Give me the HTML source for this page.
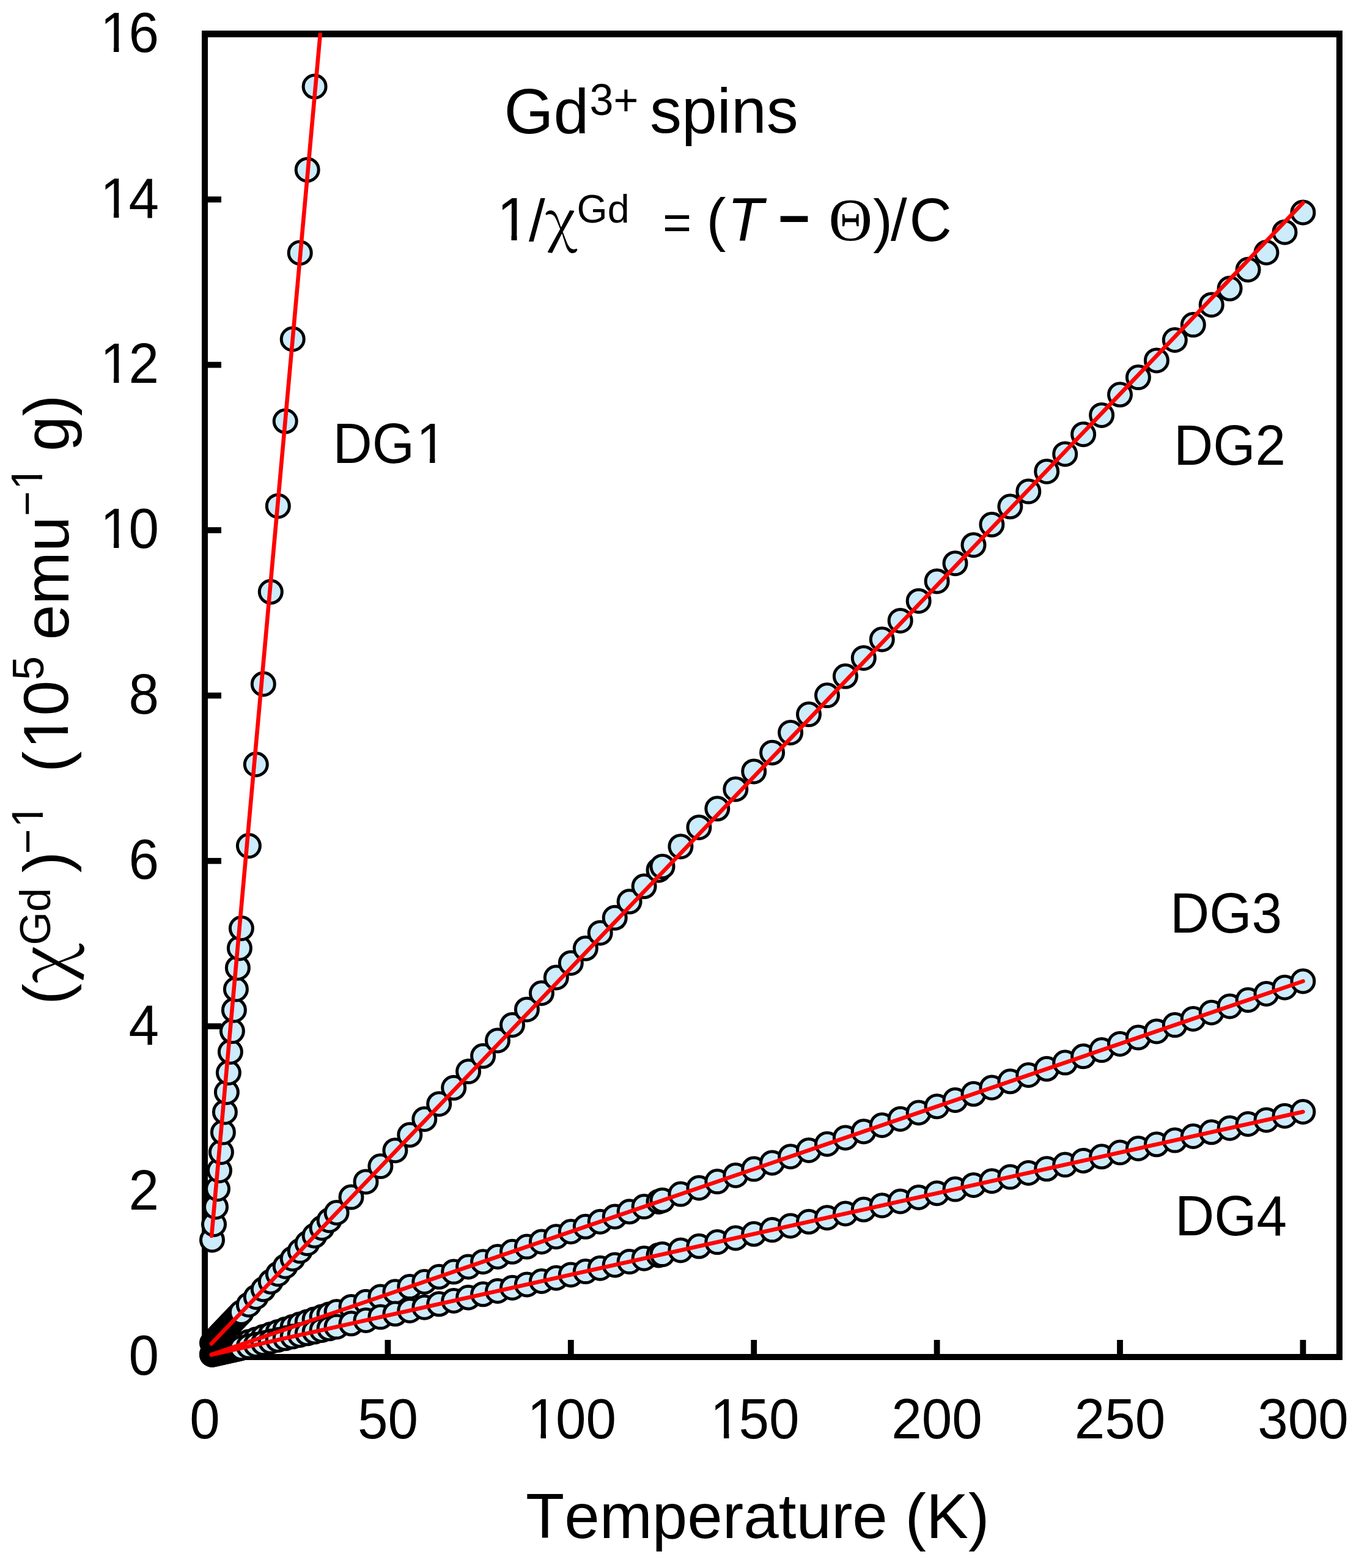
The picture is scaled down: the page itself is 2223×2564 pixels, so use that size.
<!DOCTYPE html>
<html><head><meta charset="utf-8"><title>Gd spins plot</title>
<style>html,body{margin:0;padding:0;background:#fff;}svg{display:block;font-kerning:none;font-feature-settings:'kern' 0;}</style>
</head><body>
<svg xmlns="http://www.w3.org/2000/svg" width="2223" height="2564" viewBox="0 0 2223 2564">
<rect x="0" y="0" width="2223" height="2564" fill="#fff"/>
<g fill="#000">
<rect x="330" y="50" width="10" height="2174"/>
<rect x="2186" y="50" width="10" height="2174"/>
<rect x="330" y="50" width="1866" height="11"/>
<rect x="330" y="2214" width="1866" height="10"/>
<rect x="340" y="1943.7" width="22" height="9.8"/>
<rect x="340" y="1673.3" width="22" height="9.8"/>
<rect x="340" y="1402.9" width="22" height="9.8"/>
<rect x="340" y="1132.5" width="22" height="9.8"/>
<rect x="340" y="862.1" width="22" height="9.8"/>
<rect x="340" y="591.7" width="22" height="9.8"/>
<rect x="340" y="321.3" width="22" height="9.8"/>
<rect x="629.5" y="2191" width="9.8" height="23"/>
<rect x="928.9" y="2191" width="9.8" height="23"/>
<rect x="1228.3" y="2191" width="9.8" height="23"/>
<rect x="1527.7" y="2191" width="9.8" height="23"/>
<rect x="1827.1" y="2191" width="9.8" height="23"/>
<rect x="2126.5" y="2191" width="9.8" height="23"/>
</g>
<g fill="#CCEBFB" stroke="#000" stroke-width="5">
<circle cx="347.0" cy="2027.5" r="18.5"/>
<circle cx="350.0" cy="2002.0" r="18.5"/>
<circle cx="353.0" cy="1973.5" r="18.5"/>
<circle cx="356.0" cy="1944.0" r="18.5"/>
<circle cx="359.0" cy="1914.0" r="18.5"/>
<circle cx="361.9" cy="1884.0" r="18.5"/>
<circle cx="364.9" cy="1851.6" r="18.5"/>
<circle cx="367.9" cy="1818.5" r="18.5"/>
<circle cx="370.9" cy="1786.0" r="18.5"/>
<circle cx="373.9" cy="1754.0" r="18.5"/>
<circle cx="376.9" cy="1720.0" r="18.5"/>
<circle cx="379.9" cy="1686.1" r="18.5"/>
<circle cx="382.9" cy="1651.7" r="18.5"/>
<circle cx="385.9" cy="1617.6" r="18.5"/>
<circle cx="388.9" cy="1582.7" r="18.5"/>
<circle cx="391.9" cy="1550.4" r="18.5"/>
<circle cx="394.9" cy="1518.0" r="18.5"/>
<circle cx="406.9" cy="1383.1" r="18.5"/>
<circle cx="418.8" cy="1250.0" r="18.5"/>
<circle cx="430.8" cy="1118.5" r="18.5"/>
<circle cx="442.8" cy="967.8" r="18.5"/>
<circle cx="454.8" cy="827.4" r="18.5"/>
<circle cx="466.7" cy="688.8" r="18.5"/>
<circle cx="478.7" cy="554.5" r="18.5"/>
<circle cx="490.7" cy="413.4" r="18.5"/>
<circle cx="502.7" cy="277.7" r="18.5"/>
<circle cx="514.6" cy="141.6" r="18.5"/>
<circle cx="347.0" cy="2196.1" r="18.5"/>
<circle cx="350.0" cy="2192.9" r="18.5"/>
<circle cx="353.0" cy="2189.8" r="18.5"/>
<circle cx="356.0" cy="2186.7" r="18.5"/>
<circle cx="359.0" cy="2183.5" r="18.5"/>
<circle cx="361.9" cy="2180.4" r="18.5"/>
<circle cx="364.9" cy="2177.3" r="18.5"/>
<circle cx="367.9" cy="2174.1" r="18.5"/>
<circle cx="370.9" cy="2171.0" r="18.5"/>
<circle cx="373.9" cy="2167.9" r="18.5"/>
<circle cx="376.9" cy="2164.7" r="18.5"/>
<circle cx="379.9" cy="2161.6" r="18.5"/>
<circle cx="382.9" cy="2158.5" r="18.5"/>
<circle cx="385.9" cy="2155.3" r="18.5"/>
<circle cx="388.9" cy="2152.2" r="18.5"/>
<circle cx="391.9" cy="2149.1" r="18.5"/>
<circle cx="394.9" cy="2145.9" r="18.5"/>
<circle cx="406.9" cy="2133.4" r="18.5"/>
<circle cx="418.8" cy="2120.9" r="18.5"/>
<circle cx="430.8" cy="2108.3" r="18.5"/>
<circle cx="442.8" cy="2095.8" r="18.5"/>
<circle cx="454.8" cy="2083.2" r="18.5"/>
<circle cx="466.7" cy="2070.7" r="18.5"/>
<circle cx="478.7" cy="2058.2" r="18.5"/>
<circle cx="490.7" cy="2045.6" r="18.5"/>
<circle cx="502.7" cy="2033.1" r="18.5"/>
<circle cx="514.6" cy="2020.6" r="18.5"/>
<circle cx="526.6" cy="2008.0" r="18.5"/>
<circle cx="538.6" cy="1995.5" r="18.5"/>
<circle cx="550.6" cy="1983.0" r="18.5"/>
<circle cx="574.5" cy="1957.6" r="18.5"/>
<circle cx="598.5" cy="1932.4" r="18.5"/>
<circle cx="622.4" cy="1907.1" r="18.5"/>
<circle cx="646.4" cy="1881.2" r="18.5"/>
<circle cx="670.3" cy="1855.8" r="18.5"/>
<circle cx="694.3" cy="1830.0" r="18.5"/>
<circle cx="718.2" cy="1805.2" r="18.5"/>
<circle cx="742.2" cy="1778.8" r="18.5"/>
<circle cx="766.1" cy="1752.1" r="18.5"/>
<circle cx="790.1" cy="1726.8" r="18.5"/>
<circle cx="814.0" cy="1701.4" r="18.5"/>
<circle cx="838.0" cy="1676.0" r="18.5"/>
<circle cx="861.9" cy="1650.7" r="18.5"/>
<circle cx="885.9" cy="1624.0" r="18.5"/>
<circle cx="909.8" cy="1598.5" r="18.5"/>
<circle cx="933.8" cy="1574.7" r="18.5"/>
<circle cx="957.8" cy="1550.8" r="18.5"/>
<circle cx="981.7" cy="1525.4" r="18.5"/>
<circle cx="1005.7" cy="1500.8" r="18.5"/>
<circle cx="1029.6" cy="1474.3" r="18.5"/>
<circle cx="1053.6" cy="1449.3" r="18.5"/>
<circle cx="1077.5" cy="1422.7" r="18.5"/>
<circle cx="1083.5" cy="1416.9" r="18.5"/>
<circle cx="1113.4" cy="1384.2" r="18.5"/>
<circle cx="1143.4" cy="1352.9" r="18.5"/>
<circle cx="1173.3" cy="1322.3" r="18.5"/>
<circle cx="1203.3" cy="1290.5" r="18.5"/>
<circle cx="1233.2" cy="1261.4" r="18.5"/>
<circle cx="1263.1" cy="1230.7" r="18.5"/>
<circle cx="1293.1" cy="1197.9" r="18.5"/>
<circle cx="1323.0" cy="1168.1" r="18.5"/>
<circle cx="1353.0" cy="1137.1" r="18.5"/>
<circle cx="1382.9" cy="1105.8" r="18.5"/>
<circle cx="1412.8" cy="1075.9" r="18.5"/>
<circle cx="1442.8" cy="1045.5" r="18.5"/>
<circle cx="1472.7" cy="1014.9" r="18.5"/>
<circle cx="1502.7" cy="982.7" r="18.5"/>
<circle cx="1532.6" cy="950.4" r="18.5"/>
<circle cx="1562.5" cy="921.2" r="18.5"/>
<circle cx="1592.5" cy="891.2" r="18.5"/>
<circle cx="1622.4" cy="857.8" r="18.5"/>
<circle cx="1652.4" cy="828.3" r="18.5"/>
<circle cx="1682.3" cy="803.6" r="18.5"/>
<circle cx="1712.2" cy="770.9" r="18.5"/>
<circle cx="1742.2" cy="742.4" r="18.5"/>
<circle cx="1772.1" cy="710.2" r="18.5"/>
<circle cx="1802.1" cy="678.9" r="18.5"/>
<circle cx="1832.0" cy="645.3" r="18.5"/>
<circle cx="1861.9" cy="617.1" r="18.5"/>
<circle cx="1891.9" cy="589.4" r="18.5"/>
<circle cx="1921.8" cy="556.0" r="18.5"/>
<circle cx="1951.8" cy="531.1" r="18.5"/>
<circle cx="1981.7" cy="498.4" r="18.5"/>
<circle cx="2011.6" cy="471.8" r="18.5"/>
<circle cx="2041.6" cy="441.0" r="18.5"/>
<circle cx="2071.5" cy="413.0" r="18.5"/>
<circle cx="2101.5" cy="379.7" r="18.5"/>
<circle cx="2131.4" cy="347.5" r="18.5"/>
<circle cx="347.0" cy="2214.7" r="18.5"/>
<circle cx="350.0" cy="2213.7" r="18.5"/>
<circle cx="353.0" cy="2212.7" r="18.5"/>
<circle cx="356.0" cy="2211.7" r="18.5"/>
<circle cx="359.0" cy="2210.6" r="18.5"/>
<circle cx="361.9" cy="2209.6" r="18.5"/>
<circle cx="364.9" cy="2208.6" r="18.5"/>
<circle cx="367.9" cy="2207.6" r="18.5"/>
<circle cx="370.9" cy="2206.5" r="18.5"/>
<circle cx="373.9" cy="2205.5" r="18.5"/>
<circle cx="376.9" cy="2204.5" r="18.5"/>
<circle cx="379.9" cy="2203.5" r="18.5"/>
<circle cx="382.9" cy="2202.4" r="18.5"/>
<circle cx="385.9" cy="2201.4" r="18.5"/>
<circle cx="388.9" cy="2200.4" r="18.5"/>
<circle cx="391.9" cy="2199.4" r="18.5"/>
<circle cx="394.9" cy="2198.3" r="18.5"/>
<circle cx="406.9" cy="2194.3" r="18.5"/>
<circle cx="418.8" cy="2190.2" r="18.5"/>
<circle cx="430.8" cy="2186.1" r="18.5"/>
<circle cx="442.8" cy="2182.0" r="18.5"/>
<circle cx="454.8" cy="2177.9" r="18.5"/>
<circle cx="466.7" cy="2173.8" r="18.5"/>
<circle cx="478.7" cy="2169.7" r="18.5"/>
<circle cx="490.7" cy="2165.6" r="18.5"/>
<circle cx="502.7" cy="2161.5" r="18.5"/>
<circle cx="514.6" cy="2157.4" r="18.5"/>
<circle cx="526.6" cy="2153.3" r="18.5"/>
<circle cx="538.6" cy="2149.2" r="18.5"/>
<circle cx="550.6" cy="2145.1" r="18.5"/>
<circle cx="574.5" cy="2136.9" r="18.5"/>
<circle cx="598.5" cy="2128.7" r="18.5"/>
<circle cx="622.4" cy="2120.5" r="18.5"/>
<circle cx="646.4" cy="2112.3" r="18.5"/>
<circle cx="670.3" cy="2104.1" r="18.5"/>
<circle cx="694.3" cy="2096.0" r="18.5"/>
<circle cx="718.2" cy="2087.8" r="18.5"/>
<circle cx="742.2" cy="2079.6" r="18.5"/>
<circle cx="766.1" cy="2071.4" r="18.5"/>
<circle cx="790.1" cy="2063.2" r="18.5"/>
<circle cx="814.0" cy="2055.0" r="18.5"/>
<circle cx="838.0" cy="2046.8" r="18.5"/>
<circle cx="861.9" cy="2038.6" r="18.5"/>
<circle cx="885.9" cy="2030.4" r="18.5"/>
<circle cx="909.8" cy="2022.2" r="18.5"/>
<circle cx="933.8" cy="2014.0" r="18.5"/>
<circle cx="957.8" cy="2005.8" r="18.5"/>
<circle cx="981.7" cy="1997.7" r="18.5"/>
<circle cx="1005.7" cy="1989.5" r="18.5"/>
<circle cx="1029.6" cy="1981.3" r="18.5"/>
<circle cx="1053.6" cy="1973.1" r="18.5"/>
<circle cx="1077.5" cy="1964.9" r="18.5"/>
<circle cx="1083.5" cy="1962.8" r="18.5"/>
<circle cx="1113.4" cy="1952.6" r="18.5"/>
<circle cx="1143.4" cy="1942.4" r="18.5"/>
<circle cx="1173.3" cy="1932.1" r="18.5"/>
<circle cx="1203.3" cy="1921.9" r="18.5"/>
<circle cx="1233.2" cy="1911.6" r="18.5"/>
<circle cx="1263.1" cy="1901.4" r="18.5"/>
<circle cx="1293.1" cy="1891.2" r="18.5"/>
<circle cx="1323.0" cy="1880.9" r="18.5"/>
<circle cx="1353.0" cy="1870.7" r="18.5"/>
<circle cx="1382.9" cy="1860.4" r="18.5"/>
<circle cx="1412.8" cy="1850.2" r="18.5"/>
<circle cx="1442.8" cy="1840.0" r="18.5"/>
<circle cx="1472.7" cy="1829.7" r="18.5"/>
<circle cx="1502.7" cy="1819.5" r="18.5"/>
<circle cx="1532.6" cy="1809.2" r="18.5"/>
<circle cx="1562.5" cy="1799.0" r="18.5"/>
<circle cx="1592.5" cy="1788.8" r="18.5"/>
<circle cx="1622.4" cy="1778.5" r="18.5"/>
<circle cx="1652.4" cy="1768.3" r="18.5"/>
<circle cx="1682.3" cy="1758.0" r="18.5"/>
<circle cx="1712.2" cy="1747.8" r="18.5"/>
<circle cx="1742.2" cy="1737.6" r="18.5"/>
<circle cx="1772.1" cy="1727.3" r="18.5"/>
<circle cx="1802.1" cy="1717.1" r="18.5"/>
<circle cx="1832.0" cy="1706.9" r="18.5"/>
<circle cx="1861.9" cy="1696.6" r="18.5"/>
<circle cx="1891.9" cy="1686.4" r="18.5"/>
<circle cx="1921.8" cy="1676.1" r="18.5"/>
<circle cx="1951.8" cy="1665.9" r="18.5"/>
<circle cx="1981.7" cy="1655.7" r="18.5"/>
<circle cx="2011.6" cy="1645.4" r="18.5"/>
<circle cx="2041.6" cy="1635.2" r="18.5"/>
<circle cx="2071.5" cy="1624.9" r="18.5"/>
<circle cx="2101.5" cy="1614.7" r="18.5"/>
<circle cx="2131.4" cy="1604.5" r="18.5"/>
<circle cx="347.0" cy="2214.9" r="18.5"/>
<circle cx="350.0" cy="2214.2" r="18.5"/>
<circle cx="353.0" cy="2213.6" r="18.5"/>
<circle cx="356.0" cy="2212.9" r="18.5"/>
<circle cx="359.0" cy="2212.2" r="18.5"/>
<circle cx="361.9" cy="2211.6" r="18.5"/>
<circle cx="364.9" cy="2210.9" r="18.5"/>
<circle cx="367.9" cy="2210.2" r="18.5"/>
<circle cx="370.9" cy="2209.6" r="18.5"/>
<circle cx="373.9" cy="2208.9" r="18.5"/>
<circle cx="376.9" cy="2208.2" r="18.5"/>
<circle cx="379.9" cy="2207.6" r="18.5"/>
<circle cx="382.9" cy="2206.9" r="18.5"/>
<circle cx="385.9" cy="2206.2" r="18.5"/>
<circle cx="388.9" cy="2205.6" r="18.5"/>
<circle cx="391.9" cy="2204.9" r="18.5"/>
<circle cx="394.9" cy="2204.2" r="18.5"/>
<circle cx="406.9" cy="2201.6" r="18.5"/>
<circle cx="418.8" cy="2198.9" r="18.5"/>
<circle cx="430.8" cy="2196.2" r="18.5"/>
<circle cx="442.8" cy="2193.6" r="18.5"/>
<circle cx="454.8" cy="2190.9" r="18.5"/>
<circle cx="466.7" cy="2188.3" r="18.5"/>
<circle cx="478.7" cy="2185.6" r="18.5"/>
<circle cx="490.7" cy="2182.9" r="18.5"/>
<circle cx="502.7" cy="2180.3" r="18.5"/>
<circle cx="514.6" cy="2177.6" r="18.5"/>
<circle cx="526.6" cy="2174.9" r="18.5"/>
<circle cx="538.6" cy="2172.3" r="18.5"/>
<circle cx="550.6" cy="2169.6" r="18.5"/>
<circle cx="574.5" cy="2164.3" r="18.5"/>
<circle cx="598.5" cy="2159.0" r="18.5"/>
<circle cx="622.4" cy="2153.6" r="18.5"/>
<circle cx="646.4" cy="2148.3" r="18.5"/>
<circle cx="670.3" cy="2143.0" r="18.5"/>
<circle cx="694.3" cy="2137.7" r="18.5"/>
<circle cx="718.2" cy="2132.3" r="18.5"/>
<circle cx="742.2" cy="2127.0" r="18.5"/>
<circle cx="766.1" cy="2121.7" r="18.5"/>
<circle cx="790.1" cy="2116.3" r="18.5"/>
<circle cx="814.0" cy="2111.0" r="18.5"/>
<circle cx="838.0" cy="2105.7" r="18.5"/>
<circle cx="861.9" cy="2100.4" r="18.5"/>
<circle cx="885.9" cy="2095.0" r="18.5"/>
<circle cx="909.8" cy="2089.7" r="18.5"/>
<circle cx="933.8" cy="2084.4" r="18.5"/>
<circle cx="957.8" cy="2079.1" r="18.5"/>
<circle cx="981.7" cy="2073.7" r="18.5"/>
<circle cx="1005.7" cy="2068.4" r="18.5"/>
<circle cx="1029.6" cy="2063.1" r="18.5"/>
<circle cx="1053.6" cy="2057.7" r="18.5"/>
<circle cx="1077.5" cy="2052.4" r="18.5"/>
<circle cx="1083.5" cy="2051.1" r="18.5"/>
<circle cx="1113.4" cy="2044.4" r="18.5"/>
<circle cx="1143.4" cy="2037.8" r="18.5"/>
<circle cx="1173.3" cy="2031.1" r="18.5"/>
<circle cx="1203.3" cy="2024.5" r="18.5"/>
<circle cx="1233.2" cy="2017.8" r="18.5"/>
<circle cx="1263.1" cy="2011.1" r="18.5"/>
<circle cx="1293.1" cy="2004.5" r="18.5"/>
<circle cx="1323.0" cy="1997.8" r="18.5"/>
<circle cx="1353.0" cy="1991.2" r="18.5"/>
<circle cx="1382.9" cy="1984.5" r="18.5"/>
<circle cx="1412.8" cy="1977.8" r="18.5"/>
<circle cx="1442.8" cy="1971.2" r="18.5"/>
<circle cx="1472.7" cy="1964.5" r="18.5"/>
<circle cx="1502.7" cy="1957.9" r="18.5"/>
<circle cx="1532.6" cy="1951.2" r="18.5"/>
<circle cx="1562.5" cy="1944.6" r="18.5"/>
<circle cx="1592.5" cy="1937.9" r="18.5"/>
<circle cx="1622.4" cy="1931.2" r="18.5"/>
<circle cx="1652.4" cy="1924.6" r="18.5"/>
<circle cx="1682.3" cy="1917.9" r="18.5"/>
<circle cx="1712.2" cy="1911.3" r="18.5"/>
<circle cx="1742.2" cy="1904.6" r="18.5"/>
<circle cx="1772.1" cy="1897.9" r="18.5"/>
<circle cx="1802.1" cy="1891.3" r="18.5"/>
<circle cx="1832.0" cy="1884.6" r="18.5"/>
<circle cx="1861.9" cy="1878.0" r="18.5"/>
<circle cx="1891.9" cy="1871.3" r="18.5"/>
<circle cx="1921.8" cy="1864.6" r="18.5"/>
<circle cx="1951.8" cy="1858.0" r="18.5"/>
<circle cx="1981.7" cy="1851.3" r="18.5"/>
<circle cx="2011.6" cy="1844.7" r="18.5"/>
<circle cx="2041.6" cy="1838.0" r="18.5"/>
<circle cx="2071.5" cy="1831.4" r="18.5"/>
<circle cx="2101.5" cy="1824.7" r="18.5"/>
<circle cx="2131.4" cy="1818.0" r="18.5"/>
</g>
<g stroke="#f00" stroke-width="6.6" fill="none">
<clipPath id="cp"><rect x="0" y="54" width="2223" height="2510"/></clipPath>
<line x1="346.1" y1="2021.0" x2="524.4" y2="49.0" stroke-linecap="round" clip-path="url(#cp)"/>
<line x1="345.8" y1="2197.3" x2="2131.4" y2="331.6" stroke-linecap="round"/>
<line x1="345.8" y1="2215.1" x2="2131.4" y2="1604.5" stroke-linecap="round"/>
<line x1="345.8" y1="2215.2" x2="2131.4" y2="1818.0" stroke-linecap="round"/>
</g>
<defs><clipPath id="one70"><rect x="-70.00" y="-140.00" width="210.00" height="133.47"/><rect x="17.30" y="-6.83" width="6.79" height="10.83"/></clipPath><clipPath id="one89"><rect x="-89.00" y="-178.00" width="267.00" height="170.05"/><rect x="22.08" y="-8.25" width="8.47" height="12.25"/></clipPath><clipPath id="one96"><rect x="-96.00" y="-192.00" width="288.00" height="183.53"/><rect x="23.84" y="-8.77" width="9.08" height="12.77"/></clipPath><clipPath id="one104"><rect x="-104.00" y="-208.00" width="312.00" height="198.93"/><rect x="25.85" y="-9.37" width="9.79" height="13.37"/></clipPath></defs>
<g fill="#000">
<g transform="translate(210.50,2248.30) scale(1,1.0400)"><text x="0" y="0" font-family="'Liberation Sans', Arial, sans-serif" font-size="89">0</text></g>
<g transform="translate(210.50,1977.90) scale(1,1.0400)"><text x="0" y="0" font-family="'Liberation Sans', Arial, sans-serif" font-size="89">2</text></g>
<g transform="translate(210.50,1707.50) scale(1,1.0400)"><text x="0" y="0" font-family="'Liberation Sans', Arial, sans-serif" font-size="89">4</text></g>
<g transform="translate(210.50,1437.10) scale(1,1.0400)"><text x="0" y="0" font-family="'Liberation Sans', Arial, sans-serif" font-size="89">6</text></g>
<g transform="translate(210.50,1166.70) scale(1,1.0400)"><text x="0" y="0" font-family="'Liberation Sans', Arial, sans-serif" font-size="89">8</text></g>
<g transform="translate(161.00,896.30) scale(1,1.0400)"><g transform="translate(2.91,0)"><text x="0" y="0" font-family="'Liberation Sans', Arial, sans-serif" font-size="89" clip-path="url(#one89)">1</text></g><text x="49.50" y="0" font-family="'Liberation Sans', Arial, sans-serif" font-size="89">0</text></g>
<g transform="translate(161.00,625.90) scale(1,1.0400)"><g transform="translate(2.91,0)"><text x="0" y="0" font-family="'Liberation Sans', Arial, sans-serif" font-size="89" clip-path="url(#one89)">1</text></g><text x="49.50" y="0" font-family="'Liberation Sans', Arial, sans-serif" font-size="89">2</text></g>
<g transform="translate(161.00,355.50) scale(1,1.0400)"><g transform="translate(2.91,0)"><text x="0" y="0" font-family="'Liberation Sans', Arial, sans-serif" font-size="89" clip-path="url(#one89)">1</text></g><text x="49.50" y="0" font-family="'Liberation Sans', Arial, sans-serif" font-size="89">4</text></g>
<g transform="translate(161.00,85.10) scale(1,1.0400)"><g transform="translate(2.91,0)"><text x="0" y="0" font-family="'Liberation Sans', Arial, sans-serif" font-size="89" clip-path="url(#one89)">1</text></g><text x="49.50" y="0" font-family="'Liberation Sans', Arial, sans-serif" font-size="89">6</text></g>
<g transform="translate(310.25,2352.30) scale(1,1.0400)"><text x="0" y="0" font-family="'Liberation Sans', Arial, sans-serif" font-size="89">0</text></g>
<g transform="translate(584.90,2352.30) scale(1,1.0400)"><text x="0" y="0" font-family="'Liberation Sans', Arial, sans-serif" font-size="89">50</text></g>
<g transform="translate(859.55,2352.30) scale(1,1.0400)"><g transform="translate(2.91,0)"><text x="0" y="0" font-family="'Liberation Sans', Arial, sans-serif" font-size="89" clip-path="url(#one89)">1</text></g><text x="49.50" y="0" font-family="'Liberation Sans', Arial, sans-serif" font-size="89">00</text></g>
<g transform="translate(1158.95,2352.30) scale(1,1.0400)"><g transform="translate(2.91,0)"><text x="0" y="0" font-family="'Liberation Sans', Arial, sans-serif" font-size="89" clip-path="url(#one89)">1</text></g><text x="49.50" y="0" font-family="'Liberation Sans', Arial, sans-serif" font-size="89">50</text></g>
<g transform="translate(1458.35,2352.30) scale(1,1.0400)"><text x="0" y="0" font-family="'Liberation Sans', Arial, sans-serif" font-size="89">200</text></g>
<g transform="translate(1757.75,2352.30) scale(1,1.0400)"><text x="0" y="0" font-family="'Liberation Sans', Arial, sans-serif" font-size="89">250</text></g>
<g transform="translate(2057.15,2352.30) scale(1,1.0400)"><text x="0" y="0" font-family="'Liberation Sans', Arial, sans-serif" font-size="89">300</text></g>
<g transform="translate(824.50,218.00)"><text x="0" y="0" font-family="'Liberation Sans', Arial, sans-serif" font-size="104.00" fill="#000">Gd</text></g>
<g transform="translate(964.50,188.00) scale(1,1.0400)"><text x="0" y="0" font-family="'Liberation Sans', Arial, sans-serif" font-size="70.00" fill="#000">3+</text></g>
<g transform="translate(1063.00,217.00)"><text x="0" y="0" font-family="'Liberation Sans', Arial, sans-serif" font-size="104.00" fill="#000">spins</text></g>
<g transform="translate(809.50,392.50) scale(1,1.0400)"><g transform="translate(3.14,0)"><text x="0" y="0" font-family="'Liberation Sans', Arial, sans-serif" font-size="96.00" fill="#000" clip-path="url(#one96)">1</text></g></g>
<g transform="translate(865.00,393.70)"><text x="0" y="0" font-family="'Liberation Sans', Arial, sans-serif" font-size="96.00" fill="#000">/</text></g>
<g transform="translate(892.00,394.40)"><text x="0" y="0" font-family="'Noto Serif CJK SC', 'Liberation Serif', serif" font-size="93.84" fill="#000">χ</text></g>
<g transform="translate(943.50,364.00)"><text x="0" y="0" font-family="'Liberation Sans', Arial, sans-serif" font-size="64.50" fill="#000">Gd</text></g>
<g transform="translate(1084.00,392.20)"><text x="0" y="0" font-family="'Liberation Sans', Arial, sans-serif" font-size="80.79" fill="#000">=</text></g>
<g transform="translate(1155.50,392.00)"><text x="0" y="0" font-family="'Liberation Sans', Arial, sans-serif" font-size="96.00" fill="#000">(</text></g>
<g transform="translate(1190.00,392.50) scale(1,1.0400)"><text x="0" y="0" font-family="'Liberation Sans', Arial, sans-serif" font-size="96.00" fill="#000" font-style="italic">T</text></g>
<g transform="translate(1272.80,388.00)"><text x="0" y="0" font-family="'Liberation Sans', Arial, sans-serif" font-size="89.20" fill="#000" font-weight="bold">−</text></g>
<g transform="translate(1355.60,393.40)"><text x="0" y="0" font-family="'Liberation Serif', 'Times New Roman', serif" font-size="99.15" fill="#000">Θ</text></g>
<g transform="translate(1428.00,393.60)"><text x="0" y="0" font-family="'Liberation Sans', Arial, sans-serif" font-size="96.00" fill="#000">)</text></g>
<g transform="translate(1457.00,393.40)"><text x="0" y="0" font-family="'Liberation Sans', Arial, sans-serif" font-size="96.00" fill="#000">/</text></g>
<g transform="translate(1487.50,393.50) scale(1,1.0400)"><text x="0" y="0" font-family="'Liberation Sans', Arial, sans-serif" font-size="96.00" fill="#000">C</text></g>
<g transform="translate(860.00,2514.80)"><text x="0" y="0" font-family="'Liberation Sans', Arial, sans-serif" font-size="103.40" fill="#000">Temperature (K)</text></g>
<g transform="translate(544.50,756.50) scale(1,1.0400)"><text x="0.00" y="0" font-family="'Liberation Sans', Arial, sans-serif" font-size="89.00" fill="#000">DG</text><g transform="translate(136.41,0)"><text x="0" y="0" font-family="'Liberation Sans', Arial, sans-serif" font-size="89.00" fill="#000" clip-path="url(#one89)">1</text></g></g>
<g transform="translate(1920.00,760.00) scale(1,1.0400)"><text x="0" y="0" font-family="'Liberation Sans', Arial, sans-serif" font-size="89.00" fill="#000">DG2</text></g>
<g transform="translate(1914.00,1524.50) scale(1,1.0400)"><text x="0" y="0" font-family="'Liberation Sans', Arial, sans-serif" font-size="89.00" fill="#000">DG3</text></g>
<g transform="translate(1922.00,2020.00) scale(1,1.0400)"><text x="0" y="0" font-family="'Liberation Sans', Arial, sans-serif" font-size="89.00" fill="#000">DG4</text></g>
<g transform="translate(111.00,1643.00) rotate(-90)"><text x="0" y="0" font-family="'Liberation Sans', Arial, sans-serif" font-size="104.00" fill="#000">(</text></g>
<g transform="translate(114.40,1607.20) rotate(-90)"><text x="0" y="0" font-family="'Noto Serif CJK SC', 'Liberation Serif', serif" font-size="115.89" fill="#000">χ</text></g>
<g transform="translate(81.80,1545.50) rotate(-90)"><text x="0" y="0" font-family="'Liberation Sans', Arial, sans-serif" font-size="70.00" fill="#000">Gd</text></g>
<g transform="translate(110.80,1427.00) rotate(-90)"><text x="0" y="0" font-family="'Liberation Sans', Arial, sans-serif" font-size="104.00" fill="#000">)</text></g>
<g transform="translate(69.80,1396.50) rotate(-90) scale(1,1.0400)"><text x="0.00" y="0" font-family="'Liberation Sans', Arial, sans-serif" font-size="70.00" fill="#000">−</text><g transform="translate(43.17,0)"><text x="0" y="0" font-family="'Liberation Sans', Arial, sans-serif" font-size="70.00" fill="#000" clip-path="url(#one70)">1</text></g></g>
<g transform="translate(111.40,1263.00) rotate(-90)"><text x="0.00" y="0" font-family="'Liberation Sans', Arial, sans-serif" font-size="104.00" fill="#000">(</text><g transform="translate(38.04,0)"><text x="0" y="0" font-family="'Liberation Sans', Arial, sans-serif" font-size="104.00" fill="#000" clip-path="url(#one104)">1</text></g><text x="92.47" y="0" font-family="'Liberation Sans', Arial, sans-serif" font-size="104.00" fill="#000">0</text></g>
<g transform="translate(71.20,1112.00) rotate(-90) scale(1,1.0400)"><text x="0" y="0" font-family="'Liberation Sans', Arial, sans-serif" font-size="70.00" fill="#000">5</text></g>
<g transform="translate(112.20,1046.50) rotate(-90)"><text x="0" y="0" font-family="'Liberation Sans', Arial, sans-serif" font-size="104.00" fill="#000">emu</text></g>
<g transform="translate(69.40,844.00) rotate(-90) scale(1,1.0400)"><text x="0.00" y="0" font-family="'Liberation Sans', Arial, sans-serif" font-size="70.00" fill="#000">−</text><g transform="translate(43.17,0)"><text x="0" y="0" font-family="'Liberation Sans', Arial, sans-serif" font-size="70.00" fill="#000" clip-path="url(#one70)">1</text></g></g>
<g transform="translate(112.00,738.00) rotate(-90)"><text x="0" y="0" font-family="'Liberation Sans', Arial, sans-serif" font-size="104.00" fill="#000">g)</text></g>
</g>
</svg>
</body></html>
